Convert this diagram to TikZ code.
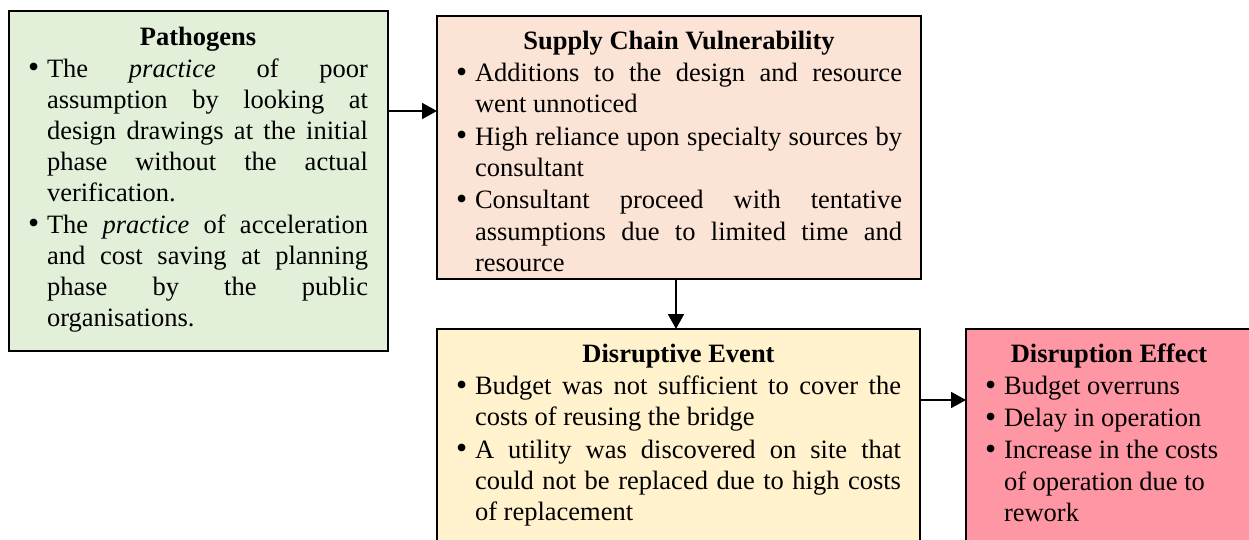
\documentclass[tikz,border=0pt]{standalone}
\usepackage{fontspec}
\setmainfont{Liberation Serif}
\usetikzlibrary{arrows.meta,calc}
\definecolor{pgreen}{HTML}{E2EFD9}
\definecolor{speach}{HTML}{FBE4D5}
\definecolor{dyellow}{HTML}{FFF2CC}
\definecolor{epink}{HTML}{FF96A3}
\newcommand{\bitem}[1]{\par\noindent\hangindent=19pt\hangafter=1\makebox[19pt][l]{\raisebox{-0.6pt}{\scalebox{1.2}{\textbullet}}}#1}
\newcommand{\btitle}[1]{{\centering\bfseries\strut#1\par}}
\tolerance=10000
\hbadness=10000
\hyphenpenalty=10000
\tikzset{
  box/.style={draw, line width=1.3pt, rectangle, inner sep=0pt, outer sep=0pt, anchor=north west},
  txt/.style={inner sep=0pt, outer sep=0pt, anchor=north west, align=justify,
    font=\fontsize{26.5pt}{31.4pt}\selectfont\setlength{\parskip}{0.8pt}},
  txtp/.style={txt, font=\fontsize{26.5pt}{31pt}\selectfont\setlength{\parskip}{1pt}},
  arr/.style={line width=1.8pt, -{Triangle[length=15pt,width=16pt]}}
}
\begin{document}
\begin{tikzpicture}[x=1pt,y=-1pt]
\useasboundingbox (0,0) rectangle (1249,539);
\clip (0,0) rectangle (1249,539);
\node[box, fill=pgreen, minimum width=379pt, minimum height=340pt] (pbox) at (9,11) {};
\node[box, fill=speach, minimum width=484pt, minimum height=263pt] (sbox) at (437,16) {};
\node[box, fill=dyellow, minimum width=483pt, minimum height=240pt] (dbox) at (437,329) {};
\node[box, fill=epink, minimum width=290pt, minimum height=240pt] (ebox) at (966,329) {};

\node[txtp, text width=340pt] (ptext) at (28,23.3) {%
\btitle{Pathogens}%
\bitem{The \textit{practice} of poor\linebreak assumption by looking at\linebreak design drawings at the initial\linebreak phase without the actual\linebreak verification.}%
\bitem{The \textit{practice} of acceleration\linebreak and cost saving at planning\linebreak phase by the public\linebreak organisations.}\par};

\node[txt, text width=446pt] (stext) at (456,27.3) {%
\btitle{Supply Chain Vulnerability}%
\bitem{Additions to the design and resource\linebreak went unnoticed}%
\bitem{High reliance upon specialty sources by\linebreak consultant}%
\bitem{Consultant proceed with tentative\linebreak assumptions due to limited time and\linebreak resource}\par};

\node[txt, text width=445pt] (dtext) at (456,340.3) {%
\btitle{Disruptive Event}%
\bitem{Budget was not sufficient to cover the\linebreak costs of reusing the bridge}%
\bitem{A utility was discovered on site that\linebreak could not be replaced due to high costs\linebreak of replacement}\par};

\node[txt, text width=248pt] (etext) at (985,340.3) {%
\btitle{Disruption Effect}%
\rightskip=0pt plus 1fil\relax
\bitem{Budget overruns}%
\bitem{Delay in operation}%
\bitem{Increase in the costs\linebreak of operation due to\linebreak rework}\par};

\coordinate (a1) at ($(pbox.north east)+(0,100)$);
\draw[arr] (a1) -- (a1 -| sbox.west);
\coordinate (a2) at ($(sbox.south)+(-3,0)$);
\draw[arr] (a2) -- (a2 |- dbox.north);
\coordinate (a3) at ($(dbox.north east)+(0,71)$);
\draw[arr] (a3) -- (a3 -| ebox.west);
\end{tikzpicture}
\end{document}
